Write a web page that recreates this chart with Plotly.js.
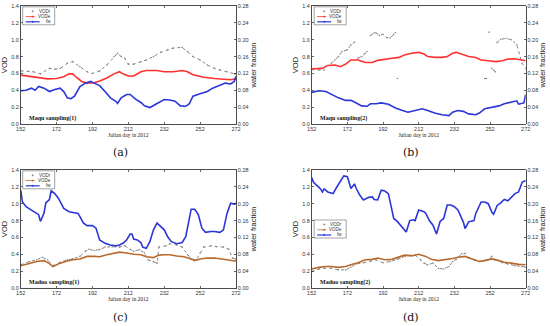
<!DOCTYPE html>
<html><head><meta charset="utf-8">
<script src="https://cdn.plot.ly/plotly-3.0.1.min.js"></script>
<style>html,body{margin:0;padding:0;background:#fff}#chart{width:550px;height:326px}</style>
</head><body><div id="chart"></div>
<script>
// ---------- Data (Julian day, VOD / water fraction) ----------
const panelLabels = ['(a)', '(b)', '(c)', '(d)'];
const siteNames = ['Maqu sampling(1)', 'Maqu sampling(2)', 'Maduo sampling(1)', 'Maduo sampling(2)'];
const seriesNames = ['VODr', 'VODe', 'fw'];
const xTicks = [152, 172, 192, 212, 232, 252, 272];

// (a) Maqu sampling(1)
const aDayR = [152,156,159,163,168,171,174,178,181,185,189,192,196,200,204,206,208,210,212,215,219,222,226,230,234,237,242,245,248,252,256,260,263,267,271,272];
const aVodR = [0.63,0.625,0.62,0.595,0.66,0.65,0.66,0.72,0.74,0.68,0.62,0.60,0.63,0.70,0.80,0.84,0.80,0.78,0.71,0.71,0.74,0.76,0.80,0.85,0.88,0.90,0.91,0.86,0.80,0.76,0.70,0.66,0.64,0.62,0.595,0.59];
const aDayE = [152,159,167,172,176,179,181,183,186,189,193,196,200,204,207,209,212,215,219,222,228,232,237,242,245,248,254,260,265,269,272];
const aVodE = [0.58,0.555,0.535,0.54,0.56,0.595,0.595,0.555,0.505,0.485,0.49,0.51,0.545,0.595,0.62,0.595,0.57,0.57,0.62,0.635,0.635,0.62,0.62,0.635,0.62,0.585,0.555,0.54,0.53,0.525,0.535];
const aDayF = [152,155,158,160,162,165,168,171,174,176,178,180,182,185,188,191,193,196,199,202,205,206,208,211,213,216,219,221,224,227,230,232,235,238,241,244,246,248,252,256,259,263,266,269,271,272];
const aFw   = [0.079,0.080,0.085,0.080,0.089,0.085,0.077,0.082,0.085,0.077,0.062,0.060,0.066,0.089,0.097,0.101,0.097,0.091,0.077,0.062,0.054,0.049,0.062,0.070,0.070,0.059,0.051,0.043,0.039,0.046,0.054,0.058,0.057,0.054,0.043,0.042,0.048,0.066,0.072,0.077,0.085,0.091,0.097,0.095,0.101,0.113];

// (b) Maqu sampling(2)  (null = gap in retrievals)
const bDayR = [152,156,159,160.5,163,165,167,169,172,174,176,177,178,180,182,183,184,185,187,188,190,192,194,196,198,199,199.5,200,200.5,249,250,251,251.5,252.5,253,253.5,254,255,255.5,256,258,261,264,267,270,272];
const bVodR = [0.645,0.64,0.64,null,0.72,0.76,0.80,0.86,0.88,0.94,0.97,null,0.78,0.80,0.84,0.86,null,1.05,1.08,1.08,1.05,1.065,1.025,1.02,1.065,1.085,null,0.54,null,0.54,0.54,null,1.09,null,0.66,null,0.64,0.62,null,0.965,1.005,1.015,1.00,0.94,0.72,0.66];
const bDayE = [152,158,161,165,168,171,174,178,182,186,189,193,197,201,204,208,212,215,217,221,225,228,231,233,236,240,244,247,251,255,259,262,266,270,272];
const bVodE = [0.655,0.66,0.695,0.70,0.68,0.71,0.76,0.76,0.73,0.73,0.755,0.77,0.78,0.79,0.82,0.84,0.85,0.83,0.80,0.79,0.79,0.80,0.84,0.85,0.83,0.80,0.79,0.76,0.75,0.74,0.75,0.77,0.775,0.76,0.75];
const bDayF = [152,156,160,163,167,171,174,177,180,183,185,188,191,195,199,203,206,210,214,217,221,225,229,231,234,237,240,244,246,249,253,257,260,264,267,268,271,272];
const bFw   = [0.075,0.079,0.077,0.070,0.062,0.056,0.056,0.050,0.043,0.042,0.048,0.048,0.050,0.047,0.038,0.032,0.028,0.032,0.036,0.032,0.026,0.022,0.020,0.028,0.032,0.030,0.024,0.022,0.026,0.036,0.040,0.043,0.048,0.051,0.055,0.047,0.050,0.070];

// (c) Maduo sampling(1)
const cDayR = [152,157,161,164,167,170,174,178,181,185,188,190,193,196,199,203,207,210,213,215,218,221,223,226,228,229,233,235,239,242,245,247,250,252,254,258,261,265,268,270,272];
const cVodR = [0.275,0.315,0.335,0.365,0.335,0.265,0.305,0.335,0.345,0.375,0.435,0.46,0.445,0.455,0.485,0.49,0.485,0.50,0.46,0.435,0.455,0.415,0.335,0.315,0.295,0.485,0.50,0.525,0.51,0.485,0.395,0.345,0.335,0.415,0.485,0.50,0.49,0.485,0.46,0.355,0.345];
const cDayE = [152,157,161,165,168,170,174,178,181,185,189,193,196,200,204,207,211,215,219,222,226,229,232,235,239,243,247,249,252,256,260,263,267,271,272];
const cVodE = [0.265,0.29,0.315,0.325,0.29,0.255,0.295,0.32,0.335,0.345,0.375,0.375,0.37,0.395,0.415,0.425,0.415,0.40,0.395,0.37,0.36,0.39,0.395,0.395,0.38,0.37,0.345,0.325,0.345,0.355,0.355,0.35,0.335,0.32,0.325];
const cDayF = [152,153,155,159,162,163,165,166,168,169,171,173,176,179,181,184,187,189,192,194,196,199,202,205,207,209,211,213,214,215,217,219,220,222,224,226,228,230,232,234,236,239,242,244,246,247,249,251,253,255,258,260,263,265,267,269,271,272];
const cFw   = [0.232,0.204,0.193,0.181,0.174,0.158,0.178,0.202,0.210,0.231,0.224,0.213,0.189,0.181,0.179,0.177,0.154,0.148,0.148,0.142,0.114,0.106,0.102,0.100,0.102,0.106,0.114,0.128,0.128,0.116,0.114,0.108,0.097,0.094,0.110,0.138,0.154,0.146,0.138,0.121,0.110,0.105,0.108,0.122,0.166,0.187,0.187,0.174,0.142,0.132,0.134,0.134,0.132,0.138,0.177,0.201,0.199,0.201];

// (d) Maduo sampling(2)
const dDayR = [152,156,159,163,167,171,174,177,181,185,188,192,196,200,203,206,210,213,215,217,220,223,226,229,231,233,236,238,240,243,246,248,251,253,255,259,262,266,270,272];
const dVodR = [0.195,0.225,0.235,0.235,0.215,0.215,0.245,0.285,0.30,0.315,0.335,0.30,0.315,0.34,0.365,0.39,0.39,0.335,0.295,0.275,0.295,0.235,0.225,0.255,0.315,0.34,0.405,0.41,0.355,0.335,0.315,0.325,0.335,0.375,0.335,0.30,0.285,0.265,0.255,0.245];
const dDayE = [152,156,160,163,167,171,174,178,182,186,189,193,197,201,204,208,212,216,219,223,227,231,234,238,242,246,249,253,257,260,264,268,272];
const dVodE = [0.225,0.245,0.255,0.255,0.245,0.255,0.275,0.30,0.335,0.34,0.355,0.335,0.34,0.365,0.39,0.38,0.40,0.375,0.34,0.325,0.335,0.35,0.365,0.375,0.345,0.315,0.325,0.345,0.325,0.305,0.295,0.28,0.275];
const dDayF = [152,153,155,157,158,159,161,164,166,168,170,172,173,174,176,177,179,181,184,186,187,189,191,193,195,197,198,200,202,204,205,207,209,210,212,215,216,218,220,222,224,226,228,230,232,234,236,237,238,240,243,244,247,249,251,253,254,256,258,260,262,264,266,268,270,272];
const dFw   = [0.262,0.251,0.243,0.235,0.228,0.235,0.228,0.224,0.239,0.254,0.266,0.264,0.247,0.236,0.247,0.236,0.220,0.209,0.215,0.216,0.210,0.209,0.232,0.230,0.224,0.189,0.165,0.158,0.147,0.138,0.133,0.160,0.162,0.160,0.185,0.181,0.177,0.160,0.149,0.128,0.158,0.165,0.197,0.197,0.193,0.185,0.165,0.157,0.141,0.157,0.160,0.177,0.204,0.204,0.200,0.180,0.175,0.196,0.202,0.210,0.207,0.215,0.224,0.228,0.251,0.255];

// ---------- Styling ----------
const W = 550, H = 326;
const colR = '#858585';
const colE = ['#ff3030', '#ff3030', '#b86a2e', '#b86a2e'];
const colF = '#2b36d6';

const panels = [
  {dr:aDayR, r:aVodR, de:aDayE, e:aVodE, df:aDayF, f:aFw, px:[20.7,236], py:[6,124], leg:[22.7,6.8]},
  {dr:bDayR, r:bVodR, de:bDayE, e:bVodE, df:bDayF, f:bFw, px:[311.7,525.7], py:[6,124], leg:[314.2,6.8]},
  {dr:cDayR, r:cVodR, de:cDayE, e:cVodE, df:cDayF, f:cFw, px:[20.7,236], py:[170,288], leg:[22.7,170.8]},
  {dr:dDayR, r:dVodR, de:dDayE, e:dVodE, df:dDayF, f:dFw, px:[311.7,525.7], py:[170,288], leg:[314.2,220]}
];

const tickFont = {family:'Liberation Sans, Arial, sans-serif', size:5.5, color:'#333'};
const fx = v => v / W, fy = v => 1 - v / H;

const traces = [];
const layout = {
  width: W, height: H, margin: {l:0, r:0, t:0, b:0},
  paper_bgcolor: '#fff', plot_bgcolor: '#fff', showlegend: false,
  shapes: [], annotations: []
};

panels.forEach((p, i) => {
  const xid = i === 0 ? 'x' : 'x' + (i + 1);
  const yl = i === 0 ? 'y' : 'y' + (2 * i + 1);
  const yr = 'y' + (2 * i + 2);
  const xk = i === 0 ? 'xaxis' : 'xaxis' + (i + 1);
  const ylk = i === 0 ? 'yaxis' : 'yaxis' + (2 * i + 1);
  const yrk = 'yaxis' + (2 * i + 2);

  traces.push({x:p.dr, y:p.r, name:seriesNames[0], xaxis:xid, yaxis:yl, type:'scatter',
    mode:'lines+markers', connectgaps:false,
    line:{color:colR, width:1, dash:'dot'}, marker:{color:colR, size:1.6}});
  traces.push({x:p.de, y:p.e, name:seriesNames[1], xaxis:xid, yaxis:yl, type:'scatter',
    mode:'lines', line:{color:colE[i], width:1.6}});
  traces.push({x:p.df, y:p.f, name:seriesNames[2], xaxis:xid, yaxis:yr, type:'scatter',
    mode:'lines', line:{color:colF, width:1.6}});

  layout[xk] = {
    domain:[fx(p.px[0]), fx(p.px[1])], anchor:yl, range:[152,272],
    tickmode:'array', tickvals:xTicks, ticks:'inside', ticklen:2, tickwidth:0.6, tickcolor:'#000',
    showline:true, linecolor:'#000', linewidth:0.7, mirror:'ticks', showgrid:false, zeroline:false,
    tickfont:tickFont,
    title:{text:'Julian day in 2012', font:{family:'Liberation Serif, Times New Roman, serif', size:5.5, color:'#222'}, standoff:1}
  };
  layout[ylk] = {
    domain:[fy(p.py[1]), fy(p.py[0])], anchor:xid, range:[0,1.4], dtick:0.2, tick0:0, tickformat:'.1f',
    ticks:'inside', ticklen:2, tickwidth:0.6, tickcolor:'#000',
    showline:true, linecolor:'#000', linewidth:0.7, showgrid:false, zeroline:false,
    tickfont:tickFont,
    title:{text:'VOD', font:{family:'Liberation Sans, Arial, sans-serif', size:7.5, color:'#222'}, standoff:2}
  };
  layout[yrk] = {
    overlaying:yl, side:'right', anchor:xid, range:[0,0.28], dtick:0.04, tick0:0, tickformat:'.2f',
    ticks:'inside', ticklen:2, tickwidth:0.6, tickcolor:'#000',
    showline:true, linecolor:'#000', linewidth:0.7, showgrid:false, zeroline:false,
    tickfont:tickFont,
    title:{text:'water fraction', font:{family:'Liberation Sans, Arial, sans-serif', size:7.5, color:'#222'}, standoff:2}
  };

  // site name inside plot
  layout.annotations.push({xref:xid, yref:yl, x:155.3, y:0.065, xanchor:'left', yanchor:'middle',
    text:'<b>' + siteNames[i] + '</b>', showarrow:false,
    font:{family:'Liberation Serif, Times New Roman, serif', size:6, color:'#111'}});

  // panel label under the subplot
  layout.annotations.push({xref:'paper', yref:'paper',
    x:fx((p.px[0] + p.px[1]) / 2 - 8), y:fy(p.py[1] + 29), xanchor:'center', yanchor:'middle',
    text:panelLabels[i], showarrow:false,
    font:{family:'DejaVu Serif, serif', size:11, color:'#111'}});

  // manual legend box
  const L = p.leg[0], T = p.leg[1], LW = 32, LH = 18;
  layout.shapes.push({type:'rect', xref:'paper', yref:'paper', x0:fx(L), x1:fx(L + LW), y0:fy(T + LH), y1:fy(T),
    line:{color:'#444', width:0.5}, fillcolor:'#fff', layer:'above'});
  const rows = [T + 4.5, T + 9.8, T + 15];
  const cols = [colR, colE[i], colF];
  const dashes = ['dot', 'dash', 'solid'];
  rows.forEach((ry, k) => {
    if (k > 0) {
      layout.shapes.push({type:'line', xref:'paper', yref:'paper', x0:fx(L + 3), x1:fx(L + 17), y0:fy(ry), y1:fy(ry),
        line:{color:cols[k], width:k === 2 ? 1.2 : 0.8, dash:dashes[k]}, layer:'above'});
    }
    layout.shapes.push({type:'circle', xref:'paper', yref:'paper', x0:fx(L + 9.3), x1:fx(L + 10.7), y0:fy(ry + 0.7), y1:fy(ry - 0.7),
      line:{color:cols[k], width:0.5}, fillcolor:cols[k], layer:'above'});
    layout.annotations.push({xref:'paper', yref:'paper', x:fx(L + 30), y:fy(ry), xanchor:'right', yanchor:'middle',
      text:seriesNames[k], showarrow:false, font:{family:'Liberation Sans, Arial, sans-serif', size:4.5, color:'#333'}});
  });
});

Plotly.newPlot('chart', traces, layout, {staticPlot:true, displayModeBar:false});
</script></body></html>
